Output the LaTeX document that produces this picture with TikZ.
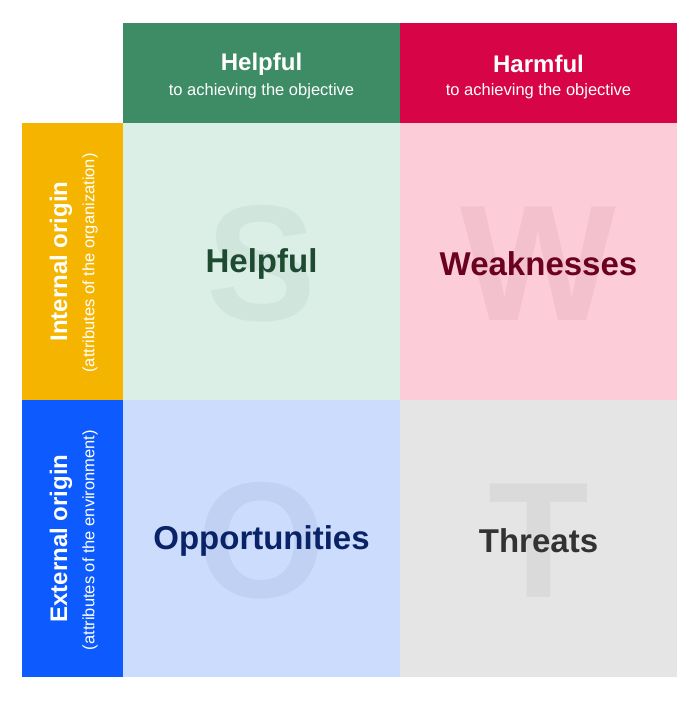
\documentclass[tikz,border=0pt]{standalone}
\usepackage{fontspec}
\setmainfont{Liberation Sans}
\definecolor{hgreen}{HTML}{3D8C65}
\definecolor{hred}{HTML}{D70447}
\definecolor{hyellow}{HTML}{F4B400}
\definecolor{hblue}{HTML}{0D5BFF}
\definecolor{qS}{HTML}{DCEFE6}
\definecolor{qW}{HTML}{FCCCD9}
\definecolor{qO}{HTML}{CCDCFC}
\definecolor{qT}{HTML}{E5E5E5}
\definecolor{tS}{HTML}{1E4A32}
\definecolor{tW}{HTML}{6B0022}
\definecolor{tO}{HTML}{0A2366}
\definecolor{tT}{HTML}{333333}
\begin{document}
\begin{tikzpicture}[x=1pt,y=-1pt,
  big/.style={font=\fontsize{165}{165}\selectfont\bfseries,inner sep=0pt},
  lbl/.style={font=\fontsize{33}{36}\selectfont\bfseries,inner sep=0pt},
  head/.style={font=\fontsize{24}{26}\selectfont\bfseries,text=white,inner sep=0pt},
  sub/.style={font=\fontsize{16.5}{18}\selectfont,text=white,inner sep=0pt}]
\useasboundingbox (0,0) rectangle (699,701);
\fill[white] (0,0) rectangle (699,701);
% headers
\fill[hgreen] (123,23) rectangle (400,123);
\fill[hred] (400,23) rectangle (677,123);
\fill[hyellow] (22,123) rectangle (123,400);
\fill[hblue] (22,400) rectangle (123,677);
% quadrants
\fill[qS] (123,123) rectangle (400,400);
\fill[qW] (400,123) rectangle (677,400);
\fill[qO] (123,400) rectangle (400,677);
\fill[qT] (400,400) rectangle (677,677);
% big letters
\node[big,text=tS,opacity=0.06] (bS) at (261.5,264) {S};
\node[big,text=tW,opacity=0.06] (bW) at (538.5,264) {W};
\node[big,text=tO,opacity=0.06] (bO) at (261.5,541) {O};
\node[big,text=tT,opacity=0.06] (bT) at (538.5,541) {T};
% labels
\node[lbl,text=tS] (lS) at (261.5,264) {Helpful};
\node[lbl,text=tW] (lW) at (538.5,264) {Weaknesses};
\node[lbl,text=tO] (lO) at (261.5,541) {Opportunities};
\node[lbl,text=tT] (lT) at (538.5,541) {Threats};
% header text
\node[head] (h1) at (261.5,64) {Helpful};
\node[sub] (s1) at (261.5,91) {to achieving the objective};
\node[head] (h2) at (538.5,64) {Harmful};
\node[sub] (s2) at (538.5,91) {to achieving the objective};
% side text
\node[head,rotate=90] (v1) at (61,261.5) {Internal origin};
\node[sub,rotate=90] (w1) at (90,263) {(attributes of the organization)};
\node[head,rotate=90] (v2) at (61,538.5) {External origin};
\node[sub,rotate=90] (w2) at (90,540) {(attributes of the environment)};
\end{tikzpicture}
\end{document}
